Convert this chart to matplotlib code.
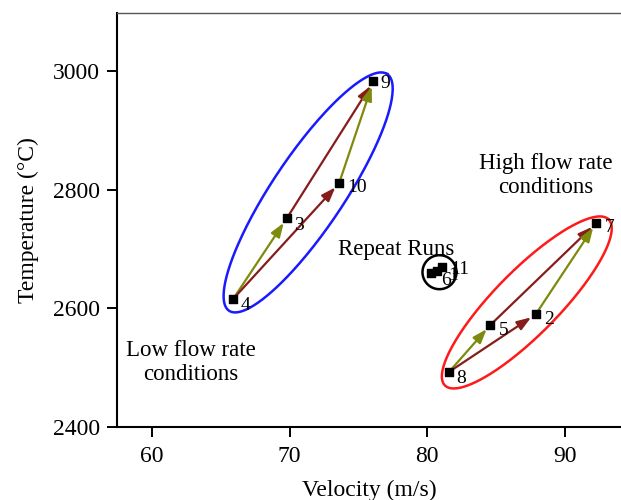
import numpy as np
import matplotlib
matplotlib.use("Agg")
import matplotlib.pyplot as plt

plt.rcParams['font.family'] = ['Liberation Serif', 'DejaVu Serif']

# Run data (velocity m/s, temperature °C)
runs = ['1', '2', '3', '4', '5', '6', '7', '8', '9', '10', '11']
velocity = [80.3, 87.9, 69.8, 65.9, 84.6, 80.7, 92.3, 81.6, 76.1, 73.6, 81.1]
temperature = [2660, 2590, 2752, 2616, 2572, 2663, 2744, 2493, 2983, 2811, 2670]

# label offsets (points)
label_offsets = {'1': (12, -2), '2': (6, -4), '3': (5, -5), '4': (5, -5), '5': (6, -4),
                 '6': (3, -7), '7': (6, -3), '8': (5, -5), '9': (5, -2), '10': (6, -3),
                 '11': (6, -2)}

# arrows: (from run, to run, colour key)
arrows = [('4', '3', 'g'), ('3', '9', 'r'), ('4', '10', 'r'), ('10', '9', 'g'),
          ('8', '5', 'g'), ('5', '7', 'r'), ('8', '2', 'r'), ('2', '7', 'g')]
arrow_colors = {'g': '#7d8a0c', 'r': '#871c1c'}

xticks = [60, 70, 80, 90]
yticks = [2400, 2600, 2800, 3000]

fig = plt.figure(figsize=(6.21, 5.0), dpi=100)
ax = fig.add_axes([0.1884, 0.146, 0.8116, 0.828])
ax.set_xlim(57.45, 94.1)
ax.set_ylim(2400, 3098)

idx = {r: i for i, r in enumerate(runs)}

for a, b, c in arrows:
    ia, ib = idx[a], idx[b]
    ax.annotate('', xy=(velocity[ib], temperature[ib]), xytext=(velocity[ia], temperature[ia]),
                arrowprops=dict(arrowstyle='-|>,head_length=0.7,head_width=0.25', color=arrow_colors[c],
                                lw=1.6, shrinkA=3, shrinkB=4, mutation_scale=12))

ax.scatter(velocity, temperature, marker='s', s=38, color='black', zorder=5)
for r, v, t in zip(runs, velocity, temperature):
    ax.annotate(r, (v, t), textcoords='offset points', xytext=label_offsets[r],
                fontsize=14, ha='left', va='center', zorder=6)

# ellipses (drawn in pixel-like space so the shape is not distorted)
sx, sy = 13.75, 0.5933  # px per data unit

def ellipse(x0, y0, x1, y1, minor, color, lw):
    cx, cy = (x0 + x1) / 2 * sx, (y0 + y1) / 2 * sy
    dx, dy = (x1 - x0) * sx, (y1 - y0) * sy
    L = np.hypot(dx, dy) / 2
    ang = np.arctan2(dy, dx)
    t = np.linspace(0, 2 * np.pi, 300)
    ex = L * np.cos(t)
    ey = minor / 2 * np.sin(t)
    px = cx + ex * np.cos(ang) - ey * np.sin(ang)
    py = cy + ex * np.sin(ang) + ey * np.cos(ang)
    ax.plot(px / sx, py / sy, color=color, lw=lw, zorder=4)

ellipse(65.6, 2596, 77.1, 2995, 72, '#1a1aff', 1.8)
ellipse(81.3, 2470, 93.2, 2750, 64, '#ff1a1a', 1.8)
# repeat-run circle
t = np.linspace(0, 2 * np.pi, 200)
ax.plot(80.9 + 17 / sx * np.cos(t), 2661 + 17 / sy * np.sin(t), color='black', lw=1.8, zorder=4)

ax.text(77.75, 2700, 'Repeat Runs', fontsize=16.5, ha='center', va='center')
ax.text(88.6, 2824, 'High flow rate\nconditions', fontsize=16.5, ha='center', va='center',
        linespacing=1.15)
ax.text(62.8, 2509, 'Low flow rate\nconditions', fontsize=16.5, ha='center', va='center',
        linespacing=1.15)

ax.set_xticks(xticks)
ax.set_yticks(yticks)
ax.tick_params(direction='out', length=7, width=1.4, labelsize=17)
ax.tick_params(axis='x', pad=7)
ax.tick_params(axis='y', pad=5)
ax.spines['right'].set_visible(False)
for s in ['left', 'bottom']:
    ax.spines[s].set_linewidth(1.5)
ax.spines['top'].set_linewidth(1.0)
ax.spines['top'].set_color('#555555')
ax.set_xlabel('Velocity (m/s)', fontsize=17, labelpad=9)
ax.set_ylabel('Temperature (°C)', fontsize=17, labelpad=10)

fig.savefig('out.png', dpi=100)
